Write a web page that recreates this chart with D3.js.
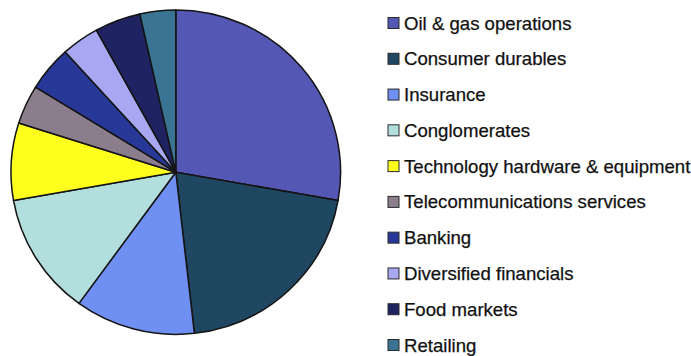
<!DOCTYPE html>
<html>
<head>
<meta charset="utf-8">
<script src="https://cdn.jsdelivr.net/npm/d3@7/dist/d3.min.js"></script>
<style>
  html, body { margin: 0; padding: 0; background: #ffffff; }
  svg { display: block; }
  text { font-family: "Liberation Sans", Arial, sans-serif; }
</style>
</head>
<body>
<svg id="chart" width="691" height="356"></svg>
<script>
// Share of companies by industry (percent)
const categories = [
  "Oil & gas operations",
  "Consumer durables",
  "Insurance",
  "Conglomerates",
  "Technology hardware & equipment",
  "Telecommunications services",
  "Banking",
  "Diversified financials",
  "Food markets",
  "Retailing"
];
const shares = [27.8, 20.4, 11.8, 12.2, 7.7, 3.9, 4.5, 3.7, 4.5, 3.5];
const colors = [
  "#5457b3", "#1f4761", "#6f8ff2", "#b3dede", "#ffff1e",
  "#8c7d8c", "#283899", "#a7a7f2", "#1f2361", "#3a7492"
];

const data = categories.map((c, i) => ({ name: c, value: shares[i] }));

const svg = d3.select("#chart");
const radius = 163.5;

const color = d3.scaleOrdinal().domain(categories).range(colors);

const pie = d3.pie()
  .value(d => d.value)
  .sort(null)
  .startAngle(0)
  .endAngle(2 * Math.PI);

const arc = d3.arc().innerRadius(0).outerRadius(radius);

const g = svg.append("g")
  .attr("transform", "translate(175.8,172.2) scale(1.008,0.992)");

g.selectAll("path")
  .data(pie(data))
  .join("path")
  .attr("d", arc)
  .attr("fill", d => color(d.data.name))
  .attr("stroke", "#141414")
  .attr("stroke-width", 1.5)
  .attr("stroke-linejoin", "round");

// Legend
const legendY = d3.scalePoint()
  .domain(categories)
  .range([23, 345]);

const legend = svg.append("g");
const rows = legend.selectAll("g")
  .data(categories)
  .join("g")
  .attr("transform", d => `translate(0,${legendY(d)})`);

rows.append("rect")
  .attr("x", 388)
  .attr("y", -5.5)
  .attr("width", 11)
  .attr("height", 11)
  .attr("fill", d => color(d))
  .attr("stroke", "#2a2a2a")
  .attr("stroke-width", 1);

rows.append("text")
  .attr("x", 404)
  .attr("y", 6.5)
  .attr("font-size", 18.6)
  .attr("fill", "#111")
  .attr("stroke", "#111")
  .attr("stroke-width", 0.25)
  .text(d => d);
</script>
</body>
</html>
